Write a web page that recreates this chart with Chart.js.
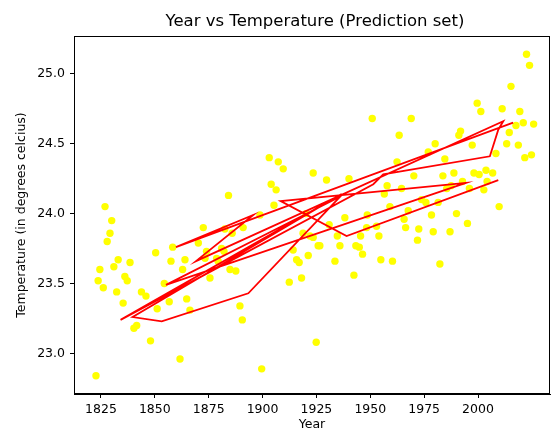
<!DOCTYPE html>
<html>
<head>
<meta charset="utf-8">
<script src="https://cdn.jsdelivr.net/npm/chart.js@4/dist/chart.umd.min.js"></script>
<style>
  html, body { margin: 0; padding: 0; background: #fff; }
  #wrap { width: 554px; height: 432px; }
</style>
</head>
<body>
<div id="wrap"><canvas id="tempChart" width="554" height="432"></canvas></div>
<script>
// observed temperatures (yellow points)
const obsYears = [
    1822.7, 1826.9, 1830.0, 1829.2, 1827.9, 1833.0, 1831.0, 1824.5, 1823.7, 1826.1,
    1836.1, 1837.2, 1832.3, 1838.5, 1835.3, 1843.8, 1845.9, 1840.3, 1841.6, 1848.0,
    1850.4, 1854.4, 1851.1, 1856.7, 1858.3, 1857.5, 1864.0, 1862.9, 1864.8, 1866.3,
    1861.7, 1870.2, 1872.5, 1874.0, 1873.3, 1875.6, 1878.7, 1881.0, 1882.1, 1879.4,
    1882.5, 1885.9, 1891.0, 1889.5, 1890.6, 1887.6, 1884.9, 1899.6, 1898.8, 1905.3,
    1912.4, 1918.1, 1914.2, 1915.8, 1917.0, 1921.2, 1924.9, 1918.8, 1925.8, 1922.0,
    1903.1, 1907.3, 1909.6, 1923.5, 1904.0, 1906.3, 1884.2, 1920.1, 2022.5, 2023.9,
    2015.3, 1999.6, 2001.3, 2011.2, 2019.4, 2021.0, 2025.8, 2017.6, 2014.5, 2013.3,
    2018.7, 2008.3, 2021.7, 2024.8, 1950.9, 1969.0, 1963.4, 1991.9, 1991.1, 1980.1,
    1976.9, 1997.3, 1984.6, 1962.4, 1929.7, 1940.1, 1970.2, 1983.7, 1988.8, 1998.1,
    2000.5, 2003.7, 2006.8, 1992.8, 1987.5, 1985.5, 1996.0, 2004.2, 2002.7, 1957.8,
    1964.5, 1956.5, 1959.1, 1973.8, 1975.8, 1981.5, 1967.6, 1978.4, 1990.0, 2009.8,
    1995.1, 1965.7, 1948.6, 1938.2, 1930.9, 1952.9, 1966.4, 1972.5, 1948.3, 1979.2,
    1987.0, 1971.9, 1954.0, 1945.5, 1934.7, 1926.6, 1935.9, 1943.3, 1944.9, 1946.4,
    1933.6, 1954.9, 1960.3, 1982.3, 1942.4, 1923.5
];
const obsTemps = [
    22.84, 24.05, 23.95, 23.86, 23.80, 23.67, 23.62, 23.60, 23.52, 23.47,
    23.55, 23.52, 23.44, 23.65, 23.36, 23.44, 23.41, 23.18, 23.20, 23.09,
    23.72, 23.50, 23.32, 23.37, 23.76, 23.66, 23.67, 23.60, 23.39, 23.31,
    22.96, 23.79, 23.90, 23.73, 23.68, 23.54, 23.68, 23.75, 23.73, 23.66,
    23.89, 23.86, 23.90, 23.34, 23.24, 23.59, 23.60, 22.89, 23.99, 24.06,
    23.51, 23.54, 23.74, 23.67, 23.65, 23.70, 23.08, 23.86, 23.77, 23.84,
    24.40, 24.37, 24.32, 24.29, 24.21, 24.17, 24.13, 24.00, 25.14, 25.06,
    24.91, 24.79, 24.73, 24.75, 24.73, 24.65, 24.64, 24.63, 24.58, 24.50,
    24.49, 24.43, 24.40, 24.42, 24.68, 24.68, 24.56, 24.59, 24.56, 24.50,
    24.44, 24.49, 24.39, 24.37, 24.24, 24.25, 24.27, 24.27, 24.29, 24.29,
    24.28, 24.31, 24.29, 24.23, 24.20, 24.18, 24.18, 24.23, 24.17, 24.20,
    24.18, 24.14, 24.05, 24.10, 24.08, 24.08, 24.02, 23.99, 24.00, 24.05,
    23.93, 23.96, 23.99, 23.97, 23.92, 23.91, 23.90, 23.89, 23.90, 23.87,
    23.87, 23.81, 23.84, 23.84, 23.84, 23.77, 23.77, 23.77, 23.76, 23.71,
    23.66, 23.67, 23.66, 23.64, 23.56, 23.83
];

// predictions, in the (unsorted) order they were plotted (red line)
const predYears = [
    2016.3, 1859.8, 1895.7, 1869.1, 2011.7, 2009.4, 2005.5, 1956.0, 1951.4, 1834.1,
    1936.7, 1839.7, 1853.2, 1893.4, 1935.9, 1855.2, 1994.4, 1908.4, 1939.0, 2009.4
];
const predTemps = [
    24.65, 23.76, 23.99, 23.66, 24.66, 24.60, 24.41, 24.28, 24.21, 23.24,
    24.14, 23.26, 23.23, 23.43, 24.12, 23.49, 24.22, 24.09, 23.84, 24.24
];

const xTicks = [1825, 1850, 1875, 1900, 1925, 1950, 1975, 2000];
const yTicks = [23.0, 23.5, 24.0, 24.5, 25.0];

const FONT = 'DejaVu Sans';

// frame + title like matplotlib
const framePlugin = {
    id: 'frame',
    afterDraw(chart) {
        const { ctx, chartArea: a } = chart;
        ctx.save();
        ctx.strokeStyle = '#000';
        ctx.lineWidth = 1;
        ctx.strokeRect(a.left + 0.5, a.top + 0.5, a.right - a.left - 1, a.bottom - a.top - 1);
        ctx.fillStyle = '#000';
        ctx.font = '16.5px "' + FONT + '"';
        ctx.textAlign = 'center';
        ctx.textBaseline = 'middle';
        ctx.fillText('Year vs Temperature (Prediction set)', 315, 22);
        ctx.restore();
    }
};

const ctx = document.getElementById('tempChart').getContext('2d');
new Chart(ctx, {
    type: 'scatter',
    data: {
        datasets: [
            {
                type: 'line',
                data: predYears.map((x, i) => ({ x: x, y: predTemps[i] })),
                borderColor: '#ff0000',
                borderWidth: 1.8,
                pointRadius: 0,
                fill: false,
                tension: 0,
                order: 0
            },
            {
                data: obsYears.map((x, i) => ({ x: x, y: obsTemps[i] })),
                backgroundColor: '#ffff00',
                borderWidth: 0,
                pointRadius: 3.7,
                order: 1
            }
        ]
    },
    options: {
        responsive: false,
        devicePixelRatio: 1,
        animation: false,
        layout: { padding: { top: 36, right: 4, left: 0, bottom: 0 } },
        plugins: {
            legend: { display: false },
            tooltip: { enabled: false }
        },
        scales: {
            x: {
                type: 'linear',
                min: 1812.5,
                max: 2033.4,
                afterBuildTicks: s => { s.ticks = xTicks.map(v => ({ value: v })); },
                afterFit: s => { s.height = 38; },
                border: { display: true, color: '#000' },
                grid: { drawOnChartArea: false, drawTicks: true, tickLength: 4, color: '#000' },
                ticks: { color: '#000', padding: 4, maxRotation: 0, callback: v => String(v), font: { family: FONT, size: 12.5 } },
                title: { display: true, text: 'Year', color: '#000', padding: { top: 0, bottom: 0 }, font: { family: FONT, size: 12.5 } }
            },
            y: {
                type: 'linear',
                min: 22.71,
                max: 25.27,
                afterBuildTicks: s => { s.ticks = yTicks.map(v => ({ value: v })); },
                afterFit: s => { s.width = 74; },
                border: { display: true, color: '#000' },
                grid: { drawOnChartArea: false, drawTicks: true, tickLength: 4, color: '#000' },
                ticks: { color: '#000', padding: 5, callback: v => Number(v).toFixed(1), font: { family: FONT, size: 12.5 } },
                title: { display: true, text: 'Temperature (in degrees celcius)', color: '#000', padding: { top: 14, bottom: 0 }, font: { family: FONT, size: 12.5 } }
            }
        }
    },
    plugins: [framePlugin]
});
</script>
</body>
</html>
